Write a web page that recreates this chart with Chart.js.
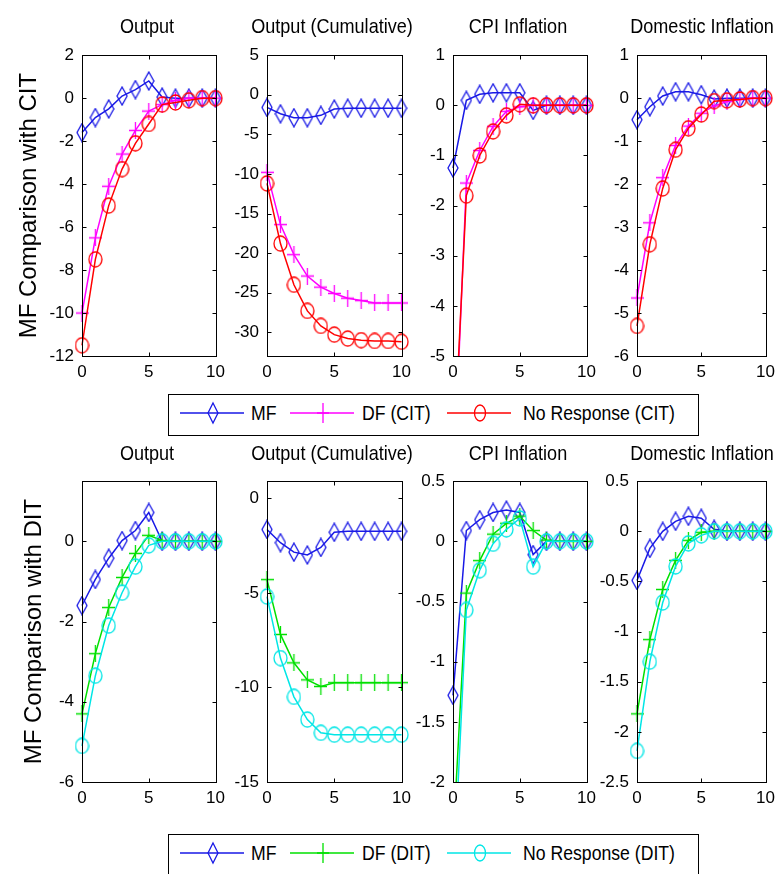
<!DOCTYPE html>
<html lang="en">
<head>
<meta charset="UTF-8">
<title>MF Comparison with CIT and DIT</title>
<script src="https://cdn.jsdelivr.net/npm/chart.js"></script>
<style>
  body { margin: 0; background: #fff; }
  #wrap { position: relative; width: 781px; height: 874px; overflow: hidden; background: #fff; }
  #wrap canvas { position: absolute; }
  .title, .legend span {
    position: absolute;
    font-family: 'Liberation Sans', Arial, sans-serif;
    font-size: 21px;
    line-height: 24px;
    color: #000;
    white-space: nowrap;
  }
  .title { width: 240px; text-align: center; transform: scaleX(0.86); }
  .legend span { transform: scaleX(0.84); transform-origin: 0 50%; }
  .legend { position: absolute; left: 168px; width: 529px; height: 40px; border: 1px solid #000; background: #fff; }
  .legend svg { position: absolute; }
</style>
</head>
<body>
<div id="wrap">
  <div class="legend" id="legendCIT" style="top:394px"></div>
  <div class="legend" id="legendDIT" style="top:834px; height:48px"></div>
</div>

<script>
// horizon (quarters)
const steps = [0, 1, 2, 3, 4, 5, 6, 7, 8, 9, 10];

// --- comparison with CIT ---
const citOutputMF = [-1.6, -0.9, -0.5, 0.1, 0.4, 0.8, 0.05, 0, 0, 0, 0];
const citOutputDF = [-10.0, -6.5, -4.1, -2.6, -1.5, -0.6, -0.3, -0.1, 0, 0, 0];
const citOutputNR = [-11.5, -7.5, -5.0, -3.3, -2.1, -1.2, -0.3, -0.2, -0.1, 0, 0];

const citCumMF = [-1.6, -2.4, -2.9, -2.9, -2.6, -1.8, -1.7, -1.7, -1.7, -1.7, -1.7];
const citCumDF = [-9.8, -16.4, -20.2, -22.9, -24.3, -25.1, -25.7, -26.0, -26.3, -26.3, -26.3];
const citCumNR = [-11.2, -18.8, -24.0, -27.3, -29.2, -30.3, -30.8, -31.0, -31.1, -31.1, -31.2];

const citCpiMF = [-1.25, 0.1, 0.22, 0.25, 0.25, 0.25, -0.1, 0, 0, 0, 0];
const citCpiDF = [-7.8, -1.55, -0.9, -0.42, -0.12, -0.03, 0, 0, 0, 0, 0];
const citCpiNR = [-7.3, -1.8, -1.0, -0.52, -0.2, 0.02, 0, 0, 0, 0, 0];

const citDomMF = [-0.5, -0.2, 0.05, 0.15, 0.15, 0.08, -0.02, 0, 0, 0, 0];
const citDomDF = [-4.65, -2.9, -1.85, -1.1, -0.65, -0.35, -0.18, -0.08, -0.03, 0, 0];
const citDomNR = [-5.3, -3.4, -2.1, -1.2, -0.7, -0.38, -0.07, -0.05, -0.03, 0, 0];

// --- comparison with DIT ---
const ditOutputMF = [-1.6, -0.95, -0.42, 0.02, 0.27, 0.72, 0, 0, 0, 0, 0];
const ditOutputDF = [-4.3, -2.8, -1.65, -0.9, -0.3, 0.15, 0.02, 0, 0, 0, 0];
const ditOutputNR = [-5.1, -3.35, -2.1, -1.28, -0.63, -0.1, 0, 0, 0, 0, 0];

const ditCumMF = [-1.65, -2.35, -2.85, -3.0, -2.6, -1.8, -1.75, -1.75, -1.75, -1.75, -1.75];
const ditCumDF = [-4.3, -7.2, -8.7, -9.6, -9.95, -9.75, -9.75, -9.75, -9.75, -9.75, -9.75];
const ditCumNR = [-5.2, -8.45, -10.5, -11.7, -12.4, -12.5, -12.5, -12.5, -12.5, -12.5, -12.5];

const ditCpiMF = [-1.28, 0.09, 0.18, 0.24, 0.26, 0.24, -0.11, 0, 0, 0, 0];
const ditCpiDF = [-2.5, -0.43, -0.16, 0.06, 0.15, 0.21, 0.09, 0.01, 0, 0, 0];
const ditCpiNR = [-2.9, -0.57, -0.24, -0.02, 0.1, 0.19, -0.21, 0, 0, 0, 0];

const ditDomMF = [-0.49, -0.17, 0.0, 0.1, 0.15, 0.13, 0.02, 0, 0, 0, 0];
const ditDomDF = [-1.82, -1.08, -0.58, -0.29, -0.09, -0.01, 0, 0, 0, 0, 0];
const ditDomNR = [-2.19, -1.3, -0.71, -0.35, -0.12, -0.04, 0, 0, 0, 0, 0];

// tick labels
const xTicks = [0, 5, 10];
const ticksCitOutput = [2, 0, -2, -4, -6, -8, -10, -12];
const ticksCitCum = [5, 0, -5, -10, -15, -20, -25, -30];
const ticksCitCpi = [1, 0, -1, -2, -3, -4, -5];
const ticksCitDom = [1, 0, -1, -2, -3, -4, -5, -6];
const ticksDitOutput = [0, -2, -4, -6];
const ticksDitCum = [0, -5, -10, -15];
const ticksDitCpi = [0.5, 0, -0.5, -1, -1.5, -2];
const ticksDitDom = [0.5, 0, -0.5, -1, -1.5, -2, -2.5];

const panelTitles = ['Output', 'Output (Cumulative)', 'CPI Inflation', 'Domestic Inflation'];
const rowLabels = ['MF Comparison with CIT', 'MF Comparison with DIT'];
const legendCIT = ['MF', 'DF (CIT)', 'No Response (CIT)'];
const legendDIT = ['MF', 'DF (DIT)', 'No Response (DIT)'];

// layout (pixels)
const colLeft = [82, 267, 453, 637];
const colRight = [217, 403, 588, 773];
const rowTop = [51, 477];
const rowBottom = [356, 782];
const titleY = [26, 453];
const PT = 14, PR = 14, XH = 30;

const BLUE = 'rgb(25,25,230)', MAGENTA = '#ff00ff', RED = '#ff0000', GREEN = '#00e000', CYAN = '#00e6e6';

// marker images, MATLAB style
function markerCanvas(w, h, draw) {
  const c = document.createElement('canvas');
  c.width = w; c.height = h;
  const g = c.getContext('2d');
  g.lineWidth = 1.3;
  draw(g, w, h);
  return c;
}
function diamond(color) {
  return markerCanvas(12, 20, (g, w, h) => {
    g.strokeStyle = color;
    g.beginPath();
    g.moveTo(w / 2, 1); g.lineTo(w - 1, h / 2); g.lineTo(w / 2, h - 1); g.lineTo(1, h / 2);
    g.closePath(); g.stroke();
  });
}
function plus(color) {
  return markerCanvas(13, 17, (g, w, h) => {
    g.strokeStyle = color;
    g.beginPath();
    g.moveTo(w / 2, 0); g.lineTo(w / 2, h);
    g.moveTo(0, h / 2); g.lineTo(w, h / 2);
    g.stroke();
  });
}
function ring(color) {
  return markerCanvas(15, 17, (g, w, h) => {
    g.strokeStyle = color;
    g.beginPath();
    g.ellipse(w / 2, h / 2, w / 2 - 1, h / 2 - 1, 0, 0, Math.PI * 2);
    g.stroke();
  });
}

// frame with inward ticks, like the MATLAB box
const framePlugin = {
  id: 'frame',
  afterDraw(chart) {
    const { ctx, chartArea: a, scales: { x, y } } = chart;
    ctx.save();
    ctx.strokeStyle = '#000';
    ctx.lineWidth = 1;
    const l = Math.round(a.left) + 0.5, r = Math.round(a.right) + 0.5;
    const t = Math.round(a.top) + 0.5, b = Math.round(a.bottom) + 0.5;
    ctx.strokeRect(l, t, r - l, b - t);
    ctx.beginPath();
    y.ticks.forEach(tk => {
      const py = Math.round(y.getPixelForValue(tk.value)) + 0.5;
      ctx.moveTo(l, py); ctx.lineTo(l + 4, py);
      ctx.moveTo(r, py); ctx.lineTo(r - 4, py);
    });
    x.ticks.forEach(tk => {
      const px = Math.round(x.getPixelForValue(tk.value)) + 0.5;
      ctx.moveTo(px, b); ctx.lineTo(px, b - 4);
      ctx.moveTo(px, t); ctx.lineTo(px, t + 4);
    });
    ctx.stroke();
    ctx.restore();
  }
};

const panels = [
  { row: 0, col: 0, mf: citOutputMF, df: citOutputDF, nr: citOutputNR, ticks: ticksCitOutput, min: -12, max: 2 },
  { row: 0, col: 1, mf: citCumMF, df: citCumDF, nr: citCumNR, ticks: ticksCitCum, min: -33, max: 5 },
  { row: 0, col: 2, mf: citCpiMF, df: citCpiDF, nr: citCpiNR, ticks: ticksCitCpi, min: -5, max: 1 },
  { row: 0, col: 3, mf: citDomMF, df: citDomDF, nr: citDomNR, ticks: ticksCitDom, min: -6, max: 1 },
  { row: 1, col: 0, mf: ditOutputMF, df: ditOutputDF, nr: ditOutputNR, ticks: ticksDitOutput, min: -6, max: 1.5 },
  { row: 1, col: 1, mf: ditCumMF, df: ditCumDF, nr: ditCumNR, ticks: ticksDitCum, min: -15, max: 0.9 },
  { row: 1, col: 2, mf: ditCpiMF, df: ditCpiDF, nr: ditCpiNR, ticks: ticksDitCpi, min: -2, max: 0.5 },
  { row: 1, col: 3, mf: ditDomMF, df: ditDomDF, nr: ditDomNR, ticks: ticksDitDom, min: -2.5, max: 0.5 }
];

const wrap = document.getElementById('wrap');
const toXY = arr => arr.map((v, i) => ({ x: steps[i], y: v }));

function series(values, color, marker) {
  return {
    data: toXY(values),
    borderColor: color,
    borderWidth: 1.5,
    pointStyle: marker,
    pointRadius: 6,
    pointHoverRadius: 6,
    tension: 0,
    fill: false,
    clip: { left: 14, right: 14, top: 14, bottom: 0 }
  };
}

panels.forEach(p => {
  const first = p.col === 0;
  const YW = first ? 82 : 50;
  const plotW = colRight[p.col] - colLeft[p.col];
  const plotH = rowBottom[p.row] - rowTop[p.row];

  const cv = document.createElement('canvas');
  cv.width = Math.min(plotW + YW + PR, 781 - (colLeft[p.col] - YW));
  cv.height = PT + plotH + XH;
  cv.style.left = (colLeft[p.col] - YW) + 'px';
  cv.style.top = (rowTop[p.row] - PT) + 'px';
  wrap.appendChild(cv);

  const title = document.createElement('div');
  title.className = 'title';
  title.textContent = panelTitles[p.col];
  title.style.left = ((colLeft[p.col] + colRight[p.col]) / 2 - 3 - 120) + 'px';
  title.style.top = (titleY[p.row] - 12) + 'px';
  wrap.appendChild(title);

  const dfColor = p.row === 0 ? MAGENTA : GREEN;
  const nrColor = p.row === 0 ? RED : CYAN;
  const tickFont = { family: "'Liberation Sans', Arial, sans-serif", size: 17 };

  new Chart(cv, {
    type: 'line',
    data: {
      datasets: [
        series(p.nr, nrColor, ring(nrColor)),
        series(p.df, dfColor, plus(dfColor)),
        series(p.mf, BLUE, diamond(BLUE))
      ]
    },
    options: {
      responsive: false,
      animation: false,
      events: [],
      layout: { padding: { top: PT, right: PR, left: 0, bottom: 0 } },
      plugins: { legend: { display: false }, tooltip: { enabled: false } },
      scales: {
        x: {
          type: 'linear',
          min: 0,
          max: 10,
          afterBuildTicks: s => { s.ticks = xTicks.map(v => ({ value: v })); },
          afterFit: s => { s.height = XH; },
          grid: { display: false, drawTicks: false },
          border: { display: false },
          ticks: { font: tickFont, color: '#000', padding: 6, maxRotation: 0, autoSkip: false, callback: v => String(v) }
        },
        y: {
          type: 'linear',
          min: p.min,
          max: p.max,
          afterBuildTicks: s => { s.ticks = p.ticks.map(v => ({ value: v })); },
          afterFit: s => { s.width = YW; },
          grid: { display: false, drawTicks: false },
          border: { display: false },
          ticks: { font: tickFont, color: '#000', padding: 8, autoSkip: false, callback: v => String(v) },
          title: {
            display: first,
            text: rowLabels[p.row],
            color: '#000',
            font: { family: "'Liberation Sans', Arial, sans-serif", size: 24 },
            padding: { top: p.row === 0 ? 15 : 20, bottom: 0 }
          }
        }
      }
    },
    plugins: [framePlugin]
  });
});

// legends
function legendSample(color, kind) {
  let m = '';
  if (kind === 'd') m = `<path d="M33 2 L38 12 L33 22 L28 12 Z" fill="none" stroke="${color}" stroke-width="1.3"/>`;
  if (kind === 'p') m = `<path d="M33 2 V22 M27 12 H39" stroke="${color}" stroke-width="1.3"/>`;
  if (kind === 'o') m = `<ellipse cx="33" cy="12" rx="5.5" ry="8" fill="none" stroke="${color}" stroke-width="1.3"/>`;
  return `<line x1="0" y1="12" x2="64" y2="12" stroke="${color}" stroke-width="1.5"/>` + m;
}
function buildLegend(id, labels, dfColor, nrColor) {
  const box = document.getElementById(id);
  const items = [
    { label: labels[0], color: BLUE, kind: 'd', line: 11, text: 82 },
    { label: labels[1], color: dfColor, kind: 'p', line: 121, text: 193 },
    { label: labels[2], color: nrColor, kind: 'o', line: 278, text: 354 }
  ];
  items.forEach(it => {
    const svg = document.createElementNS('http://www.w3.org/2000/svg', 'svg');
    svg.setAttribute('width', '66');
    svg.setAttribute('height', '24');
    svg.style.left = it.line + 'px';
    svg.style.top = '6px';
    svg.innerHTML = legendSample(it.color, it.kind);
    box.appendChild(svg);
    const s = document.createElement('span');
    s.textContent = it.label;
    s.style.left = it.text + 'px';
    s.style.top = '6px';
    box.appendChild(s);
  });
}
buildLegend('legendCIT', legendCIT, MAGENTA, RED);
buildLegend('legendDIT', legendDIT, GREEN, CYAN);
</script>
</body>
</html>
